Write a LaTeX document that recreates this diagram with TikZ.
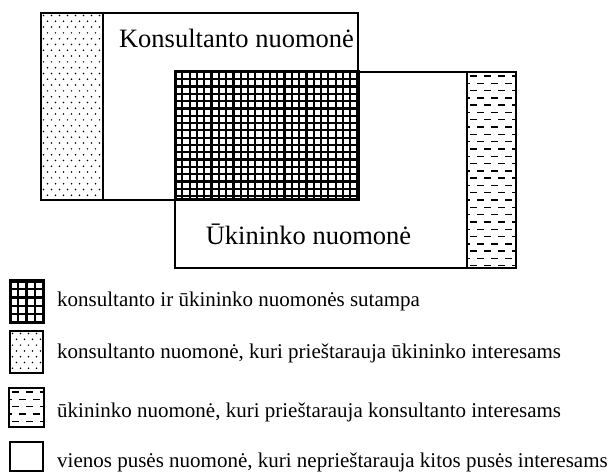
\documentclass[tikz,border=0pt]{standalone}
\usepackage{fontspec}
\setmainfont{Liberation Serif}
\newcommand\PatDots[4]{%
  \begin{scope}
    \clip (#1,#2) rectangle (#3,#4);
    \foreach \r in {0,...,40}{\foreach \c in {0,...,10}{
      \fill ({#1+2.5+\c*8+mod(\r,2)*4},{#2+2.5+\r*5.8}) circle (0.85);}}
  \end{scope}}
\newcommand\PatDash[4]{%
  \begin{scope}
    \clip (#1,#2) rectangle (#3,#4);
    \foreach \r in {0,...,40}{\foreach \c in {-1,...,5}{
      \draw[line width=1.4pt] ({#1+\c*14+mod(\r,2)*7+3},{#2+4+\r*7.3}) -- ++(6.5,0);}}
  \end{scope}}
\newcommand\PatGrid[5]{%
  \begin{scope}
    \clip (#1,#2) rectangle (#3,#4);
    \fill[white] (#1,#2) rectangle (#3,#4);
    \foreach \i in {0,...,30}{
      \draw[line width=2.2pt] ({#1+\i*#5},#2) -- ({#1+\i*#5},#4);
      \draw[line width=2.2pt] (#1,{#2+\i*#5}) -- (#3,{#2+\i*#5});}
  \end{scope}}
\tikzset{
  frame/.style={draw=black, line width=1.3pt},
  thickframe/.style={draw=black, line width=3pt},
  midframe/.style={draw=black, line width=2pt},
  bigtext/.style={inner sep=0pt, anchor=base, font=\fontsize{26.5}{30}\selectfont},
  legtext/.style={inner sep=0pt, anchor=base west, font=\fontsize{21}{24}\selectfont}
}
\begin{document}
\begin{tikzpicture}[x=1pt,y=-1pt]
\useasboundingbox (0,0) rectangle (616,473);
% corner coordinates
\coordinate (k1) at (41,13);   \coordinate (k2) at (358,200);
\coordinate (u1) at (175,72);  \coordinate (u2) at (516,268);
\coordinate (d1) at (41,13);   \coordinate (d2) at (103,200);
\coordinate (s1) at (467,72);  \coordinate (s2) at (516,268);
% main rectangles
\draw[frame] (k1) rectangle (k2);
\draw[frame] (u1) rectangle (u2);
% dotted strip
\PatDots{41}{13}{103}{200}
\draw[midframe] (d1) rectangle (d2);
% dashed strip
\PatDash{467}{72}{516}{268}
\draw[frame] (s1) rectangle (s2);
% overlap grid
\PatGrid{175}{72}{358}{200}{7.3}
\draw[thickframe] (u1) rectangle (k2);
% labels
\node[bigtext] (kt) at (236.5,48) {Konsultanto nuomonė};
\node[bigtext] (ut) at (308.5,245) {Ūkininko nuomonė};
% legend
\coordinate (l1a) at (10,281); \coordinate (l1b) at (43,322);
\coordinate (l2a) at (10,331); \coordinate (l2b) at (43,373);
\coordinate (l3a) at (9,388);  \coordinate (l3b) at (44,427);
\coordinate (l4a) at (10,442); \coordinate (l4b) at (43,471);
\PatGrid{10}{281}{43}{322}{8.2}
\draw[thickframe] (l1a) rectangle (l1b);
\PatDots{10}{331}{43}{373}
\draw[midframe] (l2a) rectangle (l2b);
\PatDash{9}{388}{44}{427}
\draw[midframe] (l3a) rectangle (l3b);
\draw[frame] (l4a) rectangle (l4b);
\node[legtext] (lt1) at (57,306) {konsultanto ir ūkininko nuomonės sutampa};
\node[legtext] (lt2) at (57,358) {konsultanto nuomonė, kuri prieštarauja ūkininko interesams};
\node[legtext] (lt3) at (57,417) {ūkininko nuomonė, kuri prieštarauja konsultanto interesams};
\node[legtext] (lt4) at (57,467) {vienos pusės nuomonė, kuri neprieštarauja kitos pusės interesams};
\end{tikzpicture}
\end{document}
